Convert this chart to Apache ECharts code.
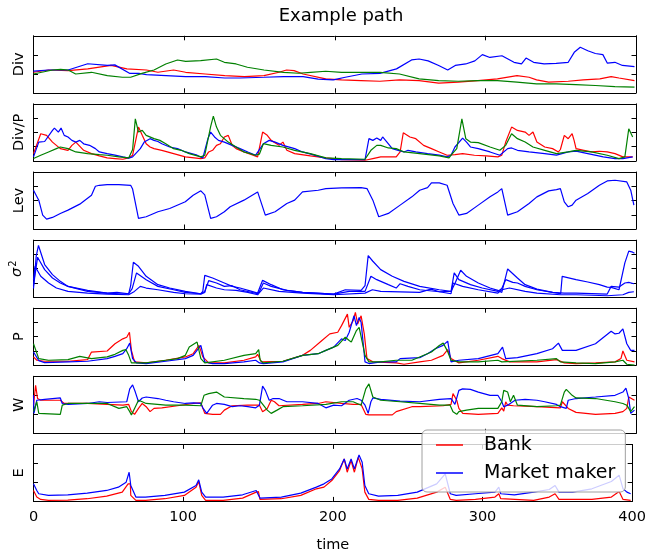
<!DOCTYPE html>
<html><head><meta charset="utf-8">
<script src="https://cdn.jsdelivr.net/npm/echarts@6.0.0/dist/echarts.min.js"></script>
<style>html,body{margin:0;padding:0;background:#fff}#c{width:649px;height:554px}</style>
</head><body><div id="c"></div><script>
// ---- data (time, value); y units are arbitrary (no tick labels) ----
const timeTicks = [0, 100, 200, 300, 400];
const panelNames = ['Div', 'Div/P', 'Lev', '{i|σ}{s|2}', 'P', 'W', 'E'];

const divRed = [[0,36],[10,40],[23,39],[36,42],[51.5,48],[62,42],[75,40],[82.6,36],[93,40],[101,36],[114,33],[127,30],[140,28.5],[153,30],[163,36],[168,40],[173,39],[179,33],[194,24.4],[204.5,22.7],[217.5,21.5],[230,20.3],[243,22.7],[256,21.5],[269,17],[282,18.6],[295,21.5],[308,24.4],[321,30],[329,27.3],[334,22.7],[342,18.6],[355,20.3],[365,22.7],[376,24.4],[383.5,28.5],[388.7,26],[399,21.5]];
const divBlue = [[0,38],[10,40],[23,40],[36,51],[49,48],[54,49],[64,34],[70,34],[75,32],[101,28.5],[114,28.5],[127,26],[137,26],[153,27.3],[166,28.5],[179,28.5],[189,24],[199,22.7],[207,27.3],[218,33],[230,34],[241,42],[251,57.6],[256,59.3],[262,56],[269,48],[275,40],[280,48],[287,50.6],[293,56],[298,67],[303,62],[311,65],[319,53.5],[324,50.6],[327,61],[332,53.5],[339,50.6],[347,51.7],[355,53.5],[359,71],[363,80],[368,73.8],[373,69],[378,67],[381,52],[386,53.5],[391,48],[399,46]];
const divGreen = [[0,33],[12.6,40],[18,41],[23,40],[28,33],[38.5,36],[49,30],[59,27.3],[64.5,27.3],[72,34],[80,40],[87.8,50.6],[95.6,57.6],[101,55],[111,56.4],[121.5,59.3],[126.7,53.5],[134.5,50.6],[142,44.8],[153,40],[166,36],[176,34.3],[184,36],[194,37.8],[204.5,36],[217.5,36],[230,36],[243,33],[256,24.4],[269,21.5],[282,20.3],[295,21.5],[308,21.5],[321,18.6],[334,15.7],[347,15.7],[360,14.5],[373,12.8],[386,11],[399,9.9]];

const divpRed = [[0,12.8],[4.8,47.7],[5.5,49.4],[8.7,44.8],[12.6,33],[17.8,21.5],[22.9,18.6],[25.5,27.3],[28.1,33],[29.4,34.3],[33.3,18.6],[38.5,12.8],[43.7,8.7],[48.9,5.2],[54.1,4.1],[59.3,2.9],[63.2,5.2],[65.8,10],[69.7,59.3],[72.2,44.8],[74.8,30],[77.4,24.4],[80,21.5],[85.2,18.6],[93,12.8],[100.8,7],[111.1,4.1],[113.7,5.2],[116.3,15.7],[118.9,18.6],[121.5,27.3],[124.1,30],[126.7,42],[129.3,44.8],[131.9,27.3],[134.5,21.5],[139.7,15.7],[144.9,11],[148.8,7],[150,10],[152.1,50.6],[155.2,44.8],[157.8,36],[163,27.3],[165.6,33],[168.2,18.6],[173.4,12.8],[183.8,8.7],[194.1,5.2],[204.5,2.3],[220.1,1.2],[225.3,4.1],[230.5,7],[240.8,7],[243.4,15.7],[245.5,49.4],[249.9,41.9],[253.8,39],[259,27.3],[264.2,21.5],[269.4,15.7],[274.6,9.9],[279.8,11],[284.9,12.8],[292.7,9.9],[300.5,8.7],[308.3,7],[310.9,10],[313.5,33],[317.4,59.3],[321.3,53.5],[326.4,50.6],[329,44.8],[331.6,50.6],[334.2,33],[339.4,24.4],[344.6,21.5],[348.5,15.7],[349.8,20],[352.4,44.8],[355,39],[357.6,47.7],[358.9,36],[360.2,21.5],[365.4,18.6],[370.5,15.7],[375.7,16.9],[380.9,15.7],[386.1,12.8],[391.3,7],[397.8,7]];
const divpBlue = [[0,7],[3.5,33],[7.4,34],[8.7,36],[12.6,53.5],[13.9,57.6],[16.5,50.6],[18.3,57.6],[20.4,44.8],[22.9,41.9],[25.5,36],[28.1,33],[30.7,36],[33.3,30],[37.2,27.3],[41.1,21.5],[43.7,15.7],[48.9,12.8],[54.1,10],[59.3,7],[63.2,5],[65.8,7],[70.9,21.5],[73.5,33],[77.4,39],[80,36],[82.6,34],[85.2,30],[90.4,24.4],[95.6,21.5],[100.8,15.7],[108.6,10],[112.4,5],[115.8,39],[117.6,50.6],[120.2,42],[122.8,36],[126.7,33],[131.9,27.3],[137.1,21.5],[142.3,15.7],[147.5,10],[148.8,7],[152.6,30],[156.5,36],[160.4,33],[165.6,27.3],[173.4,21.5],[178.6,15.7],[186.4,10],[194.1,4],[199.3,2.3],[220.1,2.3],[222.7,39],[225.3,36],[227.9,40],[230.5,36],[231.8,42],[234.4,34],[238.2,21.5],[242.1,18.6],[246,15.7],[248.6,18.6],[253.8,15.7],[261.6,12.8],[269.4,10],[274.6,7],[277.2,10],[279.8,24.4],[284.9,40],[287.5,33],[290.1,24.4],[295.3,21.5],[303.1,15.7],[309.6,10],[314.8,21.5],[317.4,22.7],[321.3,18.6],[329,15.7],[339.4,12.8],[347.2,10],[355,15.7],[360.2,17],[368,12.8],[378.3,7],[386.1,4],[391.3,4],[397.8,7]];
const divpGreen = [[0,4.1],[4.8,9.9],[10,15.7],[15.2,21.5],[17.8,24.4],[19.1,27.3],[22.9,21.5],[28.1,15.7],[35.9,12.8],[43.7,11],[48.9,9.9],[56.7,7],[63.2,5.2],[65.8,20],[67.6,73.8],[69.7,50.6],[72.2,53.5],[74.8,44.8],[80,39],[83.9,36],[87.8,30.2],[93,21.5],[98.2,18.6],[103.4,12.8],[111.1,7],[113.7,10],[117.6,60],[119.4,78.5],[121.5,59.3],[124.1,44.8],[129.3,33],[134.5,24.4],[139.7,15.7],[147.5,9.9],[150,12],[152.6,30.2],[157.8,27.3],[165.6,24.4],[173.4,18.6],[183.8,12.8],[194.1,5.2],[204.5,4.1],[220.1,2.9],[224,18.6],[227.9,27.3],[230.5,27.3],[235.6,22.7],[240.8,21.5],[246,15.7],[256.4,12.8],[269.4,8.7],[275.9,5.2],[277.2,10],[281,21.5],[284.4,73.8],[287,39],[290.1,33.1],[295.3,32],[303.1,24.4],[309.6,18.6],[310.9,20],[313.5,27.3],[317.4,47.7],[321.3,39],[326.4,33.1],[331.6,24.4],[339.4,18.6],[347.2,12.8],[355,15.7],[360.2,18.6],[370.5,15.7],[380.9,9.9],[388.7,4.1],[392.6,7],[395.2,56.4],[397.8,41.9]];

const levBlue = [[0,68],[1,71],[3.5,50.6],[6.1,24.4],[8.7,17.4],[12.6,20.3],[17.8,27.3],[22.9,33.1],[30.7,43.6],[38.5,59.3],[41.1,75],[43.7,76.7],[48.9,77.9],[56.7,77.9],[64.5,76.7],[65.8,70],[69.7,18.6],[74.8,21.5],[82.6,30.2],[90.4,36],[100.8,47.7],[106,59.3],[111.1,67],[112.4,68],[113.7,60],[117.6,18.6],[121.5,21.5],[126.7,30.2],[130.6,39],[131.9,36],[139.7,50.6],[148.8,65.1],[150,63.4],[153.9,24.4],[160.4,30.2],[168.2,44.8],[173.4,50.6],[178.6,65.1],[189,68],[194.1,70.9],[204.5,72.1],[217.5,72.7],[221.4,70.9],[225.3,50.6],[229.2,21.5],[235.6,27.3],[243.4,41.9],[251.2,56.4],[256.4,68],[261.6,72.7],[264.2,80.8],[269.4,80.8],[274.6,76.7],[278.5,44.8],[282.4,24.4],[287.5,27.3],[295.3,41.9],[303.1,56.4],[308.3,65.1],[310.9,70.9],[314.8,24.4],[321.3,30.2],[329,44.8],[334.2,56.4],[342,66.9],[347.2,69.2],[349.8,70.9],[352.4,47.7],[355,39],[357.6,41.9],[360.2,50.6],[368,62.2],[375.7,76.7],[380.9,84.3],[386.1,85.5],[393.9,82.6],[396.5,68],[398.6,41.9]];

const sig1 = [[0,15],[1.8,71.8],[3.3,90.6],[7.4,57.1],[12.6,39.4],[17.8,27.6],[22.9,18.8],[35.9,11.8],[48.9,7.1],[59.3,5.3],[63.2,5.9],[64.5,20],[66.3,61.2],[69.7,54.1],[74.8,36.5],[82.6,21.8],[90.4,15.9],[100.8,10],[111.1,5.9],[112.4,10],[113.7,38.2],[118.9,33.5],[126.7,24.7],[131.9,18.8],[137.1,15.9],[144.9,10],[148.8,7.1],[150,10],[152.1,29.4],[157.8,21.8],[165.6,12.9],[178.6,8.2],[199.3,5.3],[207,12.9],[217.5,11.8],[220.1,20],[222.2,72.9],[225.3,62.9],[230.5,48.2],[238.2,36.5],[246,27.6],[256.4,18.8],[269.4,12.9],[277.2,10],[280,25],[283.6,47.1],[287.5,36.5],[295.3,24.7],[303.1,15.9],[308.3,11.8],[310.9,8.2],[314.8,49.4],[321.3,33.5],[326.4,21.8],[334.2,14.1],[344.6,8.2],[350,5.9],[351,36.5],[360.2,30.6],[368,26.5],[375.7,21.8],[380.9,17.6],[383.5,17.1],[388.7,12.9],[392.6,60],[395.2,80.6],[397.8,78.8],[399,77]];
const sig2 = [[0,20],[2.7,70],[7.4,48.2],[12.6,33.5],[17.8,24.7],[22.9,18.8],[35.9,10],[48.9,7.1],[55.4,8.2],[59.3,7.1],[63.2,5.9],[65.5,15],[68.4,42.4],[74.8,30.6],[82.6,18.8],[93,12.9],[100.8,8.2],[111.1,5.9],[113.7,10],[116.3,28.8],[121.5,24.7],[126.7,18.8],[131.9,20],[137.1,12.9],[148.8,5.9],[150,10],[152.6,24.7],[157.8,18.8],[168.2,11.8],[178.6,8.2],[199.3,5.3],[209.6,10],[220.1,10],[224,36.5],[227.9,30.6],[235.6,21.8],[240.8,15.9],[243.4,23.5],[248.6,18.8],[256.4,12.9],[269.4,9.4],[277.2,10],[279.3,42.4],[282.4,30.6],[290.1,21.8],[297.9,15.9],[308.3,10],[310.9,15],[313.5,30.6],[318.2,25.9],[321.3,24.7],[326.4,18.8],[334.2,12.9],[344.6,8.2],[352.4,7.1],[360.2,7.1],[380.9,5.3],[383.5,18.8],[388.7,17.6],[392.6,24.7],[395.2,25.9],[398.6,23.5]];
const sig3 = [[0,30],[1,54.1],[4.8,36.5],[10,24.7],[15.2,15.9],[22.9,10],[35.9,7.1],[48.9,5.3],[63.2,4.1],[67,10],[70.9,18.8],[74.8,15.9],[82.6,12.9],[93,8.2],[100.8,5.9],[111.1,5.3],[113.7,8],[115,21.8],[121.5,15.9],[126.7,12.9],[134.5,11.8],[142.3,8.2],[148.8,4.1],[150,8],[152.6,15.9],[163,10],[178.6,7.1],[199.3,4.1],[220.1,7],[225,12.9],[230.5,10],[256.4,8.2],[263.8,14.1],[269.4,9.4],[277.2,5.9],[278.5,24.7],[284.9,18.8],[295.3,12.9],[308.3,7.1],[311,12.9],[316,15.9],[326.4,10],[334.2,7.1],[350,4.1],[360.2,4.1],[380.9,2.4],[391.3,4.1],[395.2,8.2],[398.6,9.4]];

const pRed = [[0,14.5],[2.2,8.7],[7.4,6.9],[22.9,6.9],[35.9,9.8],[38.5,23.1],[48.9,24.9],[54.1,37.6],[59.3,46.2],[61.9,49.1],[63.7,57.8],[65,26],[67.1,5.8],[74.8,4],[87.8,8.7],[100.8,14.5],[106,20.2],[109.9,34.7],[111.1,37.6],[112.4,14.5],[116.3,4],[126.7,4],[139.7,8.7],[147.5,14.5],[148.8,19.1],[151.3,5.8],[165.6,6.9],[178.6,17.3],[183.8,26],[191.5,43.4],[196.7,54.9],[202,57.8],[204.5,69.4],[208.4,89.6],[209.6,66.5],[212.2,78],[213.7,92.5],[215.2,72.3],[217.5,86.7],[219.6,54.9],[221.4,11.6],[225.3,5.8],[240.8,4],[246,1.7],[256.4,5.8],[264.2,8.7],[271.9,17.3],[275,27.2],[277.2,11.6],[282.4,4],[295.3,8.7],[308.3,15.6],[310.9,11.6],[316.1,5.8],[334.2,5.8],[347.2,9.8],[352.4,4],[360.2,2.9],[373.1,4],[386.1,5.8],[390,11.6],[391.3,24.9],[393.9,8.7],[399,5.8]];
const pBlue = [[0,23.1],[3.5,8],[7.4,4.6],[22.9,5.8],[35.9,6.9],[48.9,11.6],[54.1,15.6],[59.3,20.2],[61.9,28.9],[63.9,38.7],[65.8,11.6],[68.4,4],[74.8,2.9],[87.8,6.9],[100.8,11.6],[106,17.3],[111.1,34.7],[113.7,5.8],[118.9,2.9],[126.7,2.9],[139.7,5.8],[147.5,8.7],[150,4],[152.6,2.9],[165.6,5.8],[178.6,17.3],[189,20.2],[194.1,26],[199.3,31.8],[204.5,46.2],[207,43.4],[209.6,57.8],[212.8,86.7],[214.4,69.4],[216.2,83.8],[217.5,75.1],[220.1,5.8],[222.7,2.9],[230.5,5.8],[240.8,5.8],[243.4,11.6],[256.4,13.3],[261.6,20.2],[266.8,28.9],[271.9,34.7],[275,42.2],[277.2,5.8],[282.4,8.7],[295.3,11.6],[308.3,20.2],[311.4,31.8],[313.5,11.6],[321.3,13.3],[334.2,20.2],[344.6,28.9],[348.5,38.7],[351.1,26],[360.2,26],[373.1,37.6],[383.5,59.5],[386.1,54.9],[388.7,56.1],[391.3,63.6],[393.9,37.6],[396.5,26],[399,26]];
const pGreen = [[0,37.6],[3.5,11.6],[10,8.7],[22.9,9.8],[30.7,15.6],[38.5,11.6],[48.9,14.5],[54.1,19.1],[59.3,26],[61.4,27.2],[63.2,17.3],[65,4],[74.8,4],[87.8,8.7],[95.6,11.6],[100.8,17.3],[103.4,31.8],[108.6,40.5],[109.9,41.6],[111.1,11.6],[113.7,4],[126.7,8.7],[139.7,17.3],[147.5,20.2],[149.5,27.2],[150.5,8.7],[152.6,4],[165.6,6.9],[178.6,17.3],[189,20.2],[194.1,26],[202,34.7],[207,49.1],[209.6,43.4],[211,40.5],[214.4,60.7],[216.2,66.5],[217.5,69.4],[220.1,17.3],[222.7,5.8],[230.5,5.8],[240.8,8.7],[251.2,8.7],[256.4,14.5],[264.2,23.1],[269.4,34.7],[272,38.7],[274.6,26],[277.2,8.7],[282.4,5.8],[295.3,5.8],[308.3,8.7],[310.9,5.8],[334.2,8.7],[347.2,11.6],[349.8,5.8],[360.2,4],[373.1,2.9],[386.1,5.8],[391.3,8.7],[393.9,1.7],[399,0]];

const wRed = [[0,0.48],[1.4,1.52],[2.7,0.83],[4.8,0.74],[10,0.74],[17.8,0.74],[20.4,0.57],[22.9,0.57],[35.9,0.57],[48.9,0.52],[59.3,0.48],[63.2,0.52],[65,0.14],[67.1,0],[69.7,0.31],[72.2,0.57],[74.8,0.40],[77.4,0.14],[80,0.31],[85.2,0.34],[95.6,0.45],[106,0.57],[111.1,0.60],[113.7,0.05],[118.9,0],[124.1,0],[126.7,0.22],[131.9,0.45],[142.3,0.48],[150,0.48],[152.1,0.14],[152.6,0.05],[155.2,0.31],[157.8,0.74],[160,0.66],[163,0.45],[178.6,0.52],[189,0.57],[194.1,0.66],[204.5,0.57],[212.2,0.52],[217.5,0.52],[220.6,0],[222.7,-0.03],[238.2,-0.03],[240.8,0.14],[251.2,0.40],[256.4,0.40],[272,0.45],[277.2,0.52],[278.5,1.09],[281,0.74],[282.4,0.31],[285,0.05],[295.3,0],[308.3,0.05],[310.9,0.34],[312.2,0.17],[313.5,0.66],[314.8,0.48],[318.7,0.45],[334.2,0.40],[349.8,0.34],[351.1,0.66],[355,0.31],[360.2,0.10],[373.1,0],[386.1,0.05],[391.3,0.14],[393.9,0.31],[395.2,0.91],[396.5,0.91],[399,0.74]];
const wBlue = [[0,1.0],[0.3,0.05],[2.2,0.74],[7.4,0.79],[17.8,0.86],[19.1,0.57],[22.9,0.52],[35.9,0.57],[43.7,0.66],[48.9,0.62],[61.9,0.66],[63.9,1.34],[65.8,1.55],[67.6,1.17],[69.7,0.66],[72.2,0.86],[74.8,0.91],[82.6,0.83],[87.8,0.74],[93,0.66],[100.8,0.57],[106,0.60],[111.1,0.57],[112.4,0.34],[115,0.05],[118.9,0.48],[121.5,0.57],[126.7,0.52],[131.9,0.40],[137.1,0.45],[142.3,0.40],[147.5,0.34],[150,0.48],[152.1,1.48],[153.9,1.26],[156.5,0.74],[159.1,0.83],[163,0.83],[168.2,0.66],[178.6,0.66],[189,0.57],[194.1,0.34],[199.3,0.48],[204.5,0.45],[209.6,0.74],[214.8,0.83],[217.5,0.74],[220.1,0.48],[222.2,0.05],[224,0.66],[225.3,0.86],[230.5,0.79],[243.4,0.69],[256.4,0.66],[269.4,0.79],[277.2,0.83],[279.8,0.52],[282.4,1.26],[284.9,1.34],[290.1,1.31],[295.3,1.17],[303.1,1.0],[308.3,1.0],[310.9,0.66],[312.2,0.40],[314.8,0.48],[319.7,0.74],[326.4,0.79],[334.2,0.74],[339.4,0.66],[347.2,0.52],[349.8,0.40],[353.7,0.31],[355,0.74],[360.2,0.83],[373.1,0.91],[386.1,1.0],[391.3,1.17],[393.3,1.38],[395.2,0.83],[396.5,0.05],[399,0.22]];
const wGreen = [[0,0.14],[2.2,0.66],[3.5,0.05],[4.8,0],[17.8,0],[19.1,0.48],[22.9,0.57],[35.9,0.57],[48.9,0.57],[56.7,0.31],[61.9,0.40],[63.9,0.14],[65,-0.03],[67.1,0.31],[69.7,0.74],[72.2,0.66],[74.8,0.57],[87.8,0.48],[100.8,0.48],[111.1,0.45],[113.2,1.0],[116.3,1.09],[121.5,1.17],[126.7,0.91],[139.7,0.83],[147.5,0.79],[150,0.74],[152.6,0.48],[155.2,0.22],[157.8,0.05],[161.7,0.22],[165.6,0.40],[178.6,0.45],[194.1,0.52],[204.5,0.66],[212.2,0.66],[217.5,0.48],[220.6,1.34],[222.7,1.60],[225.3,0.91],[230.5,0.74],[243.4,0.66],[256.4,0.57],[269.4,0.48],[276.6,0.48],[278.5,0.14],[281,0],[282.4,0.14],[287.5,0.22],[295.3,0.31],[308.3,0.31],[310.9,0.66],[312.2,1.26],[314.8,1.17],[316.6,0.66],[318.7,1.0],[321.3,0.48],[334.2,0.40],[347.2,0.45],[349.8,0.48],[352.4,1.17],[353.7,1.31],[357.6,1.0],[360.2,0.86],[373.1,0.83],[386.1,0.66],[391.3,0.57],[393.9,0.48],[396.5,0.14],[399,0.40]];

const eRed = [[0,19.2],[0.9,20],[2.2,7.6],[4.8,3.5],[10,1.7],[22.9,2.3],[35.9,4.7],[48.9,9.3],[59.3,16.3],[63.2,30.8],[64.7,30.8],[65,10.5],[68.4,1.7],[74.8,1.7],[87.8,4.7],[100.8,10.5],[108.6,25],[110.4,34.9],[112.4,10.5],[115,1.7],[126.7,1.7],[139.7,5.8],[148.8,16.3],[150.3,17],[151.3,3.5],[165.6,4.7],[178.6,10.5],[189,22.1],[194.1,25],[199.3,36.6],[204.5,54.1],[207.6,74.4],[209.6,51.2],[212.2,71.5],[214.4,51.2],[217,77.3],[219.6,57],[221.4,16.3],[224,3.5],[230.5,1.7],[243.4,1.7],[256.4,5.8],[269.4,16.3],[275.1,25],[278.5,3.5],[282.4,1.7],[295.3,3.5],[308.3,7.6],[310.9,13.4],[312.2,4.7],[334.2,1.7],[344.6,7.6],[348.5,13.4],[351.1,3.5],[373.1,3.5],[386.1,7.6],[391.3,17.4],[393.9,3.5],[399,1.7]];
const eBlue = [[0,30.8],[0.9,33.7],[2.2,19.2],[3.5,13.4],[10,10.5],[22.9,11.6],[35.9,14.5],[48.9,19.2],[56.7,25],[61.9,33.7],[63.9,51.2],[65,27.9],[68.4,7.6],[74.8,7.6],[87.8,10.5],[100.8,16.3],[108.6,27.9],[110.4,37.8],[112.4,16.3],[115,7.6],[126.7,7.6],[139.7,11.6],[148.8,19.2],[151.3,5.8],[165.6,7.6],[178.6,14.5],[189,25],[194.1,30.8],[199.3,39.5],[204.5,57],[207.6,74.4],[209.6,57],[212.2,74.4],[214.4,57],[217.5,81.4],[219.6,68.6],[221.4,27.9],[224,13.4],[230.5,9.3],[243.4,10.5],[256.4,16.3],[269.4,30.8],[275.1,48.3],[278.5,13.4],[282.4,10.5],[295.3,13.4],[308.3,16.3],[310.9,25],[312.2,13.4],[321.3,11.6],[334.2,16.3],[344.6,20.9],[348.5,27.9],[351.1,16.3],[360.2,16.3],[373.1,22.1],[386.1,34.9],[391.3,46],[393.9,22.1],[396.5,16.3],[399,13.4]];

// ---- layout / style ----
const RED = '#ff0000', BLUE = '#0000ff', GREEN = '#008000';
const FONT = 'DejaVu Sans';
const panelSeries = [
  [[divRed, RED, 'Bank'], [divBlue, BLUE, 'Market maker'], [divGreen, GREEN, 'Other']],
  [[divpRed, RED, 'Bank'], [divpBlue, BLUE, 'Market maker'], [divpGreen, GREEN, 'Other']],
  [[levBlue, BLUE, 'Market maker']],
  [[sig1, BLUE, 'Market maker'], [sig2, BLUE, 'Market maker'], [sig3, BLUE, 'Market maker']],
  [[pRed, RED, 'Bank'], [pBlue, BLUE, 'Market maker'], [pGreen, GREEN, 'Other']],
  [[wRed, RED, 'Bank'], [wBlue, BLUE, 'Market maker'], [wGreen, GREEN, 'Other']],
  [[eRed, RED, 'Bank'], [eBlue, BLUE, 'Market maker']]
];
const yRange = [[0,100,100/3],[0,100,25],[0,100,25],[0,100,25],[0,100,25],[-1,2,1],[0,100,100/3]];

const N = 7, TOP0 = 35.8, STEP = 68.1, H = 57;
const grid = [], xAxis = [], yAxis = [], series = [];
const lineAx = {show: true, onZero: false, lineStyle: {color: '#000', width: 1}};
const tick = {show: true, inside: true, length: 4.5, lineStyle: {color: '#000', width: 1}};
for (let i = 0; i < N; i++) {
  grid.push({left: 33.5, right: 13, top: TOP0 + STEP * i, height: H, containLabel: false});
  const last = i === N - 1;
  xAxis.push({gridIndex: i, type: 'value', min: timeTicks[0], max: timeTicks[timeTicks.length-1], interval: 100,
    position: 'bottom', axisLine: lineAx, axisTick: tick, splitLine: {show: false},
    axisLabel: {show: last, fontSize: 14.5, color: '#000', fontFamily: FONT, margin: 8},
    name: last ? 'time' : '', nameLocation: 'middle', nameGap: 36,
    nameTextStyle: {fontSize: 14.5, color: '#000', fontFamily: FONT}});
  xAxis.push({gridIndex: i, type: 'value', min: 0, max: 400, interval: 100, position: 'top',
    axisLine: lineAx, axisTick: tick, splitLine: {show: false}, axisLabel: {show: false}});
  const [mn, mx, iv] = yRange[i];
  yAxis.push({gridIndex: i, type: 'value', min: mn, max: mx, interval: iv, position: 'left',
    axisLine: lineAx, axisTick: tick, splitLine: {show: false}, axisLabel: {show: false},
    name: panelNames[i], nameLocation: 'middle', nameRotate: 90, nameGap: 7,
    nameTextStyle: {fontSize: 14.5, color: '#000', fontFamily: FONT,
      rich: {i: {fontSize: 14.5, fontStyle: 'italic', fontFamily: FONT, color: '#000'},
             s: {fontSize: 10, fontFamily: FONT, color: '#000', padding: [0, 0, 8, 1]}}}});
  yAxis.push({gridIndex: i, type: 'value', min: mn, max: mx, interval: iv, position: 'right',
    axisLine: lineAx, axisTick: tick, splitLine: {show: false}, axisLabel: {show: false}});
  panelSeries[i].forEach(([d, c, nm]) => {
    series.push({type: 'line', name: nm, xAxisIndex: 2 * i, yAxisIndex: 2 * i, data: d,
      symbol: 'none', showSymbol: false, lineStyle: {color: c, width: 1.2}, itemStyle: {color: c},
      emphasis: {disabled: true}, z: 2});
  });
}

const chart = echarts.init(document.getElementById('c'), null, {renderer: 'canvas'});
chart.setOption({
  animation: false,
  backgroundColor: '#fff',
  title: {text: 'Example path', left: 336, top: 2, textAlign: 'center',
    textStyle: {fontSize: 18, fontWeight: 'normal', color: '#000', fontFamily: FONT}},
  legend: {data: ['Bank', 'Market maker'], orient: 'vertical', left: 422, top: 430,
    backgroundColor: 'rgba(255,255,255,0.8)', borderColor: '#a0a0a0', borderWidth: 1, borderRadius: 5,
    padding: [4, 10, 8, 14], itemGap: 6, itemWidth: 27, itemHeight: 1.5, icon: 'rect',
    textStyle: {fontSize: 19, color: '#000', fontFamily: FONT, lineHeight: 22, padding: [0, 0, 0, 16]},
    selectedMode: false},
  grid, xAxis, yAxis, series
});
</script></body></html>
